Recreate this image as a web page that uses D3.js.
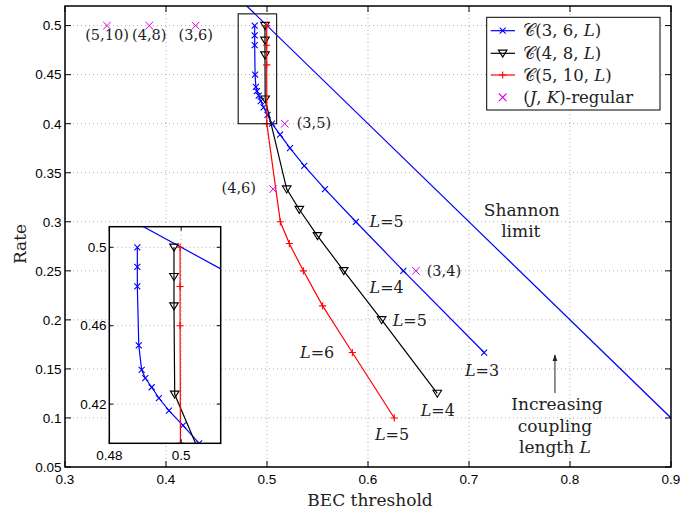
<!DOCTYPE html>
<html><head><meta charset="utf-8">
<script src="https://cdn.jsdelivr.net/npm/d3@7"></script>
<style>body{margin:0;background:#fff}</style>
</head><body><svg id="c" width="696" height="517"></svg>
<script>
// ---------- data ----------
const c36Thr  = [0.715, 0.635, 0.588, 0.5574, 0.5369, 0.5228, 0.5129, 0.5050, 0.5005, 0.4966, 0.4938, 0.4918, 0.4900, 0.4890, 0.4882, 0.4878, 0.4878, 0.4878];
const c36Rate = [0.1667, 0.25, 0.3, 0.3333, 0.3571, 0.375, 0.3889, 0.4, 0.4091, 0.4167, 0.4231, 0.4286, 0.4333, 0.4375, 0.45, 0.48, 0.49, 0.5];
const c48Thr  = [0.6686, 0.6135, 0.576, 0.550, 0.532, 0.5195, 0.4982, 0.4980, 0.4980, 0.4980];
const c48Rate = [0.125, 0.2, 0.25, 0.2857, 0.3125, 0.3333, 0.425, 0.47, 0.485, 0.5];
const c510Thr  = [0.626, 0.5845, 0.5551, 0.536, 0.5221, 0.5132, 0.4998, 0.4997, 0.4997, 0.4997];
const c510Rate = [0.1, 0.1667, 0.2143, 0.25, 0.2778, 0.3, 0.4, 0.46, 0.48, 0.5];
const regLabels = ["(5,10)", "(4,8)", "(3,6)", "(3,5)", "(4,6)", "(3,4)"];
const regThr  = [0.3416, 0.3834, 0.4294, 0.5176, 0.5061, 0.6474];
const regRate = [0.5, 0.5, 0.5, 0.4, 0.3333, 0.25];
const shannonRate = [0.52, 0.1];
const xTicks = [0.3, 0.4, 0.5, 0.6, 0.7, 0.8, 0.9];
const yTicks = [0.05, 0.1, 0.15, 0.2, 0.25, 0.3, 0.35, 0.4, 0.45, 0.5];
const insetXTicks = [0.48, 0.5];
const insetYTicks = [0.42, 0.46, 0.5];
const legendLabels = [["𝒞(3, 6, ", "L", ")"], ["𝒞(4, 8, ", "L", ")"], ["𝒞(5, 10, ", "L", ")"], ["(", "J", ", ", "K", ")-regular"]];

// ---------- layout ----------
const svg = d3.select("#c");
const M = {l: 65, r: 671, t: 6, b: 467};
const x = d3.scaleLinear().domain([0.3, 0.9]).range([M.l, M.r]);
const y = d3.scaleLinear().domain([0.05, 0.52]).range([M.b, M.t]);
const serif = "DejaVu Serif";
const sans = "Liberation Sans, Arial, Helvetica, sans-serif";
const BLUE = "#0000ff", RED = "#ff0000", MAG = "#e000e0";

const series = [
  {thr: c36Thr, rate: c36Rate, color: BLUE, marker: "x"},
  {thr: c48Thr, rate: c48Rate, color: "#000", marker: "v"},
  {thr: c510Thr, rate: c510Rate, color: RED, marker: "+"}
];
function markerPath(m) {
  if (m === "x") return "M-3,-3L3,3M-3,3L3,-3";
  if (m === "X") return "M-3.8,-3.8L3.8,3.8M-3.8,3.8L3.8,-3.8";
  if (m === "+") return "M-3.6,0L3.6,0M0,-3.6L0,3.6";
  return "M-4.3,-3.2L4.3,-3.2L0,3.8Z";
}

const defs = svg.append("defs");
defs.append("clipPath").attr("id", "mainclip").append("rect")
  .attr("x", M.l).attr("y", M.t).attr("width", M.r - M.l).attr("height", M.b - M.t);

// grid
const g = svg.append("g");
g.selectAll(".gx").data(xTicks).join("line")
  .attr("x1", d => x(d)).attr("x2", d => x(d)).attr("y1", M.t).attr("y2", M.b)
  .attr("stroke", "#9a9a9a").attr("stroke-width", 0.8).attr("stroke-dasharray", "1,3");
g.selectAll(".gy").data(yTicks).join("line")
  .attr("y1", d => y(d)).attr("y2", d => y(d)).attr("x1", M.l).attr("x2", M.r)
  .attr("stroke", "#9a9a9a").attr("stroke-width", 0.8).attr("stroke-dasharray", "1,3");

function drawData(parent, xs, ys, clipId, withReg) {
  const p = parent.append("g").attr("clip-path", `url(#${clipId})`);
  const line = d3.line().x(d => xs(d[0])).y(d => ys(d[1]));
  p.append("path").datum(shannonRate.map(r => [1 - r, r])).attr("d", line)
    .attr("fill", "none").attr("stroke", BLUE).attr("stroke-width", 1.2);
  series.forEach(s => {
    const pts = s.thr.map((t, i) => [t, s.rate[i]]);
    p.append("path").datum(pts).attr("d", line).attr("fill", "none")
      .attr("stroke", s.color).attr("stroke-width", 1.2);
    p.selectAll(null).data(pts).join("path")
      .attr("transform", d => `translate(${xs(d[0])},${ys(d[1])})`)
      .attr("d", markerPath(s.marker)).attr("fill", "none")
      .attr("stroke", s.color).attr("stroke-width", 1.1);
  });
  if (withReg) {
    p.selectAll(null).data(regThr.map((t, i) => [t, regRate[i]])).join("path")
      .attr("transform", d => `translate(${xs(d[0])},${ys(d[1])})`)
      .attr("d", markerPath("X")).attr("fill", "none").attr("stroke", MAG).attr("stroke-width", 1);
  }
}
drawData(svg, x, y, "mainclip", true);

// annotations (data-space anchor positions)
function addText(parent, tx, ty, parts, anchor, size) {
  const t = parent.append("text").attr("x", x(tx)).attr("y", y(ty))
    .attr("text-anchor", anchor).attr("font-family", serif).attr("font-size", size).attr("fill", "#222");
  parts.forEach((p, i) => t.append("tspan").text(p).attr("font-style", p === "L" || p === "J" || p === "K" ? "italic" : "normal"));
  return t;
}
const Lnotes = [
  [0.6015, 0.295, "5"], [0.6015, 0.2277, "4"], [0.6245, 0.194, "5"], [0.696, 0.1428, "3"],
  [0.6522, 0.102, "4"], [0.6069, 0.0775, "5"], [0.5327, 0.1614, "6"]
];
Lnotes.forEach(n => addText(svg, n[0], n[1], ["L", "=" + n[2]], "start", 16));
const regNotes = [
  [regThr[0], 0.4858, "middle"], [regThr[1], 0.4858, "middle"], [regThr[2], 0.4858, "middle"],
  [0.5294, 0.3953, "start"], [0.4891, 0.3293, "end"], [0.6581, 0.2447, "start"]
];
regNotes.forEach((n, i) => addText(svg, n[0], n[1], [regLabels[i]], n[2], 14.5));
addText(svg, 0.7522, 0.3059, ["Shannon"], "middle", 17);
addText(svg, 0.7513, 0.2848, ["limit"], "middle", 17);
addText(svg, 0.7871, 0.1081, ["Increasing"], "middle", 17);
addText(svg, 0.7851, 0.0860, ["coupling"], "middle", 17);
addText(svg, 0.7851, 0.0646, ["length ", "L"], "middle", 17);
// arrow
defs.append("marker").attr("id", "ah").attr("viewBox", "0 0 10 10").attr("refX", 9).attr("refY", 5)
  .attr("markerWidth", 7).attr("markerHeight", 9).attr("orient", "auto")
  .append("path").attr("d", "M0,1.5L10,5L0,8.5Z").attr("fill", "#222");
svg.append("line").attr("x1", x(0.7851)).attr("x2", x(0.7851)).attr("y1", y(0.1254)).attr("y2", y(0.1642))
  .attr("stroke", "#222").attr("stroke-width", 1).attr("marker-end", "url(#ah)");

// zoom indicator rectangle
svg.append("rect").attr("x", x(0.4715)).attr("y", y(0.512)).attr("width", x(0.5095) - x(0.4715))
  .attr("height", y(0.4) - y(0.512)).attr("fill", "none").attr("stroke", "#222").attr("stroke-width", 1.2);

// main axes frame + ticks
function frameAndTicks(parent, xs, ys, xt, yt, tl) {
  const [x0, x1] = xs.range(), [y0, y1] = ys.range();
  const fg = parent.append("g").attr("stroke", "#000").attr("stroke-width", 1);
  xt.forEach(v => {
    fg.append("line").attr("x1", xs(v)).attr("x2", xs(v)).attr("y1", y0).attr("y2", y0 - tl);
    fg.append("line").attr("x1", xs(v)).attr("x2", xs(v)).attr("y1", y1).attr("y2", y1 + tl);
  });
  yt.forEach(v => {
    fg.append("line").attr("y1", ys(v)).attr("y2", ys(v)).attr("x1", x0).attr("x2", x0 + tl);
    fg.append("line").attr("y1", ys(v)).attr("y2", ys(v)).attr("x1", x1).attr("x2", x1 - tl);
  });
  parent.append("rect").attr("x", x0).attr("y", y1).attr("width", x1 - x0).attr("height", y0 - y1)
    .attr("fill", "none").attr("stroke", "#000").attr("stroke-width", 1.5);
}
frameAndTicks(svg, x, y, xTicks, yTicks, 6);
svg.selectAll(".xl").data(xTicks).join("text").attr("x", d => x(d)).attr("y", 484)
  .attr("text-anchor", "middle").attr("font-family", sans).attr("font-size", 13.5).text(d => String(d));
svg.selectAll(".yl").data(yTicks).join("text").attr("x", 61.5).attr("y", d => y(d) + 4.8)
  .attr("text-anchor", "end").attr("font-family", sans).attr("font-size", 13.5).text(d => String(d));
svg.append("text").attr("transform", "translate(26,244) rotate(-90)").attr("text-anchor", "middle")
  .attr("font-family", serif).attr("font-size", 17).attr("fill", "#222").text("Rate");
svg.append("text").attr("x", 370).attr("y", 506).attr("text-anchor", "middle")
  .attr("font-family", serif).attr("font-size", 17).attr("fill", "#222").text("BEC threshold");

// ---------- inset ----------
const ix = d3.scaleLinear().domain([0.48, 0.511]).range([109.3, 220.7]);
const iy = d3.scaleLinear().domain([0.4, 0.5105]).range([443.3, 226.7]);
defs.append("clipPath").attr("id", "insclip").append("rect")
  .attr("x", 109.3).attr("y", 226.7).attr("width", 111.4).attr("height", 216.6);
const ins = svg.append("g");
ins.append("rect").attr("x", 109.3).attr("y", 226.7).attr("width", 111.4).attr("height", 216.6).attr("fill", "#fff");
ins.selectAll(".igx").data(insetXTicks).join("line")
  .attr("x1", d => ix(d)).attr("x2", d => ix(d)).attr("y1", 226.7).attr("y2", 443.3)
  .attr("stroke", "#9a9a9a").attr("stroke-width", 0.8).attr("stroke-dasharray", "1,3");
ins.selectAll(".igy").data(insetYTicks).join("line")
  .attr("y1", d => iy(d)).attr("y2", d => iy(d)).attr("x1", 109.3).attr("x2", 220.7)
  .attr("stroke", "#9a9a9a").attr("stroke-width", 0.8).attr("stroke-dasharray", "1,3");
drawData(ins, ix, iy, "insclip", false);
frameAndTicks(ins, ix, iy, insetXTicks, insetYTicks, 4);
ins.selectAll(".ixl").data(insetXTicks).join("text").attr("x", d => ix(d)).attr("y", 460)
  .attr("text-anchor", "middle").attr("font-family", sans).attr("font-size", 13.5).text(d => String(d));
ins.selectAll(".iyl").data(insetYTicks).join("text").attr("x", 106.5).attr("y", d => iy(d) + 4.8)
  .attr("text-anchor", "end").attr("font-family", sans).attr("font-size", 13.5).text(d => String(d));

// ---------- legend ----------
const lg = svg.append("g");
lg.append("rect").attr("x", 486.7).attr("y", 17.3).attr("width", 173.3).attr("height", 92.7)
  .attr("fill", "#fff").attr("stroke", "#000").attr("stroke-width", 1);
const rowY = [30.7, 53.3, 75, 97.3];
const legSeries = [series[0], series[1], series[2], {color: MAG, marker: "X", noLine: true}];
legSeries.forEach((s, i) => {
  if (!s.noLine) lg.append("line").attr("x1", 490.7).attr("x2", 515).attr("y1", rowY[i]).attr("y2", rowY[i])
    .attr("stroke", s.color).attr("stroke-width", 1.2);
  lg.append("path").attr("transform", `translate(502.7,${rowY[i]})`).attr("d", markerPath(s.marker))
    .attr("fill", "none").attr("stroke", s.color).attr("stroke-width", 1.1);
  const t = lg.append("text").attr("x", 523.3).attr("y", rowY[i] + 5.5)
    .attr("font-family", serif).attr("font-size", 16.5).attr("fill", "#222");
  legendLabels[i].forEach(p => t.append("tspan").text(p)
    .attr("font-style", p === "L" || p === "J" || p === "K" ? "italic" : "normal"));
});
</script></body></html>
